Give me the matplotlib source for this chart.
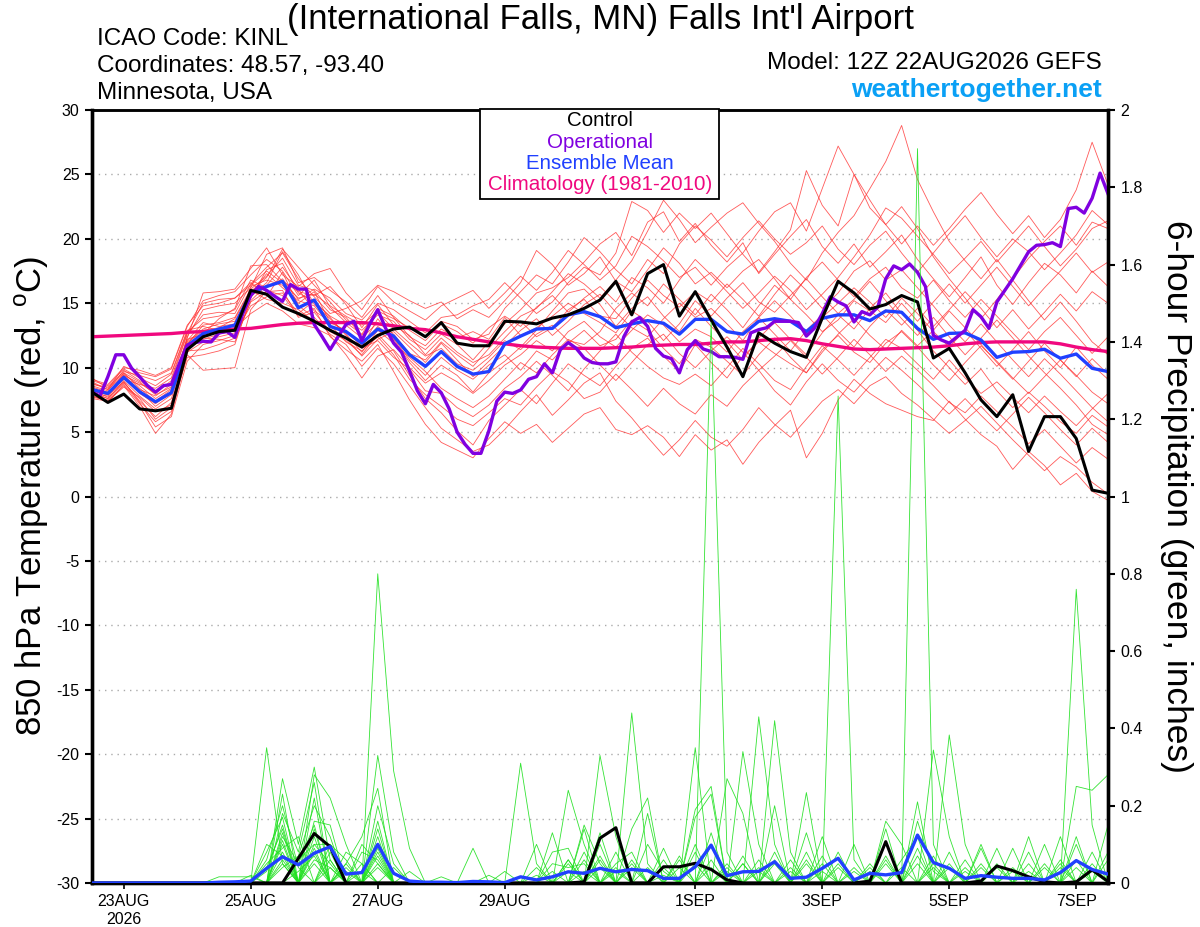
import numpy as np
import pandas as pd
import matplotlib
matplotlib.use('Agg')
import matplotlib.pyplot as plt
from matplotlib.patches import Rectangle

plt.rcParams['font.family'] = ['Liberation Sans', 'DejaVu Sans']
plt.rcParams['axes.unicode_minus'] = False
plt.rcParams['mathtext.fontset'] = 'custom'
plt.rcParams['mathtext.rm'] = 'Liberation Sans'

# ---------------- data ----------------
times6 = pd.date_range('2026-08-22 12:00', periods=65, freq='6h')
times3 = pd.date_range('2026-08-22 12:00', periods=129, freq='3h')

tick_dates = ['2026-08-23', '2026-08-25', '2026-08-27', '2026-08-29',
              '2026-09-01', '2026-09-03', '2026-09-05', '2026-09-07']
tick_labels = ['23AUG\n2026', '25AUG', '27AUG', '29AUG', '1SEP', '3SEP', '5SEP', '7SEP']

control_t = [8.1, 7.3, 7.95, 6.8, 6.65, 6.85, 11.4, 12.4, 12.8, 12.9,
             16.0, 15.7, 14.7, 14.2, 13.6, 12.9, 12.3, 11.6, 12.5, 13.0,
             13.15, 12.4, 13.5, 11.9, 11.7, 11.7, 13.6, 13.55, 13.4, 13.85,
             14.1, 14.6, 15.25, 16.7, 14.1, 17.3, 18.0, 14.0, 15.9, 13.7,
             11.6, 9.3, 12.7, 11.9, 11.25, 10.8, 13.85, 16.7, 15.8, 14.55,
             14.9, 15.6, 15.1, 10.75, 11.5, 9.6, 7.5, 6.2, 7.9, 3.5,
             6.2, 6.2, 4.5, 0.5, 0.25]

operational_t = [8.1, 7.8, 9.3, 11.0, 11.0, 9.95, 9.3, 8.6, 8.1, 8.6,
                 8.7, 10.3, 11.75, 11.95, 12.05, 12.0, 12.7, 12.8, 12.35, 14.2,
                 15.6, 16.3, 16.0, 15.55, 15.15, 16.45, 16.1, 16.1, 13.35, 12.4,
                 11.4, 12.4, 13.35, 13.6, 12.1, 13.4, 14.5, 13.05, 11.9, 11.2,
                 9.75, 8.2, 7.2, 8.7, 8.05, 6.8, 5.0, 4.05, 3.35, 3.35,
                 5.1, 7.4, 8.1, 8.0, 8.27, 9.1, 9.3, 10.3, 9.6, 11.4,
                 11.95, 11.5, 10.75, 10.4, 10.3, 10.3, 10.45, 12.4, 13.55, 13.9,
                 13.2, 11.5, 10.9, 10.7, 9.6, 11.4, 12.1, 11.45, 11.25, 10.85,
                 10.85, 10.8, 10.65, 12.7, 12.95, 13.1, 13.6, 13.6, 13.6, 13.5,
                 12.45, 13.05, 14.2, 15.5, 15.1, 14.8, 13.55, 14.35, 14.1, 14.7,
                 16.9, 17.9, 17.6, 18.05, 17.4, 16.3, 12.5, 12.15, 11.9, 12.4,
                 12.9, 14.5, 13.95, 13.05, 15.1, 16.0, 16.9, 17.95, 19.0, 19.5,
                 19.55, 19.7, 19.4, 22.35, 22.45, 22.0, 23.15, 25.1, 23.5]

mean_t = [8.3, 8.0, 9.25, 8.13, 7.35, 8.06, 11.7, 12.65, 13.0, 13.3,
          15.8, 16.3, 16.7, 14.65, 15.25, 13.2, 12.8, 11.9, 13.0, 12.45,
          11.0, 10.1, 11.25, 10.1, 9.5, 9.7, 11.85, 12.45, 13.0, 13.05,
          14.1, 14.35, 13.96, 13.1, 13.4, 13.65, 13.45, 12.6, 13.75, 13.75,
          12.8, 12.6, 13.6, 13.8, 13.6, 12.8, 13.83, 14.1, 14.1, 13.65,
          14.4, 14.3, 13.05, 12.2, 12.66, 12.7, 12.15, 10.8, 11.2, 11.25,
          11.43, 10.73, 11.06, 9.95, 9.7]

climatology_t = [12.4, 12.45, 12.5, 12.55, 12.6, 12.65, 12.75, 12.8, 12.9, 13.0,
                 13.05, 13.2, 13.35, 13.45, 13.5, 13.5, 13.5, 13.5, 13.4, 13.25,
                 13.05, 12.95, 12.7, 12.4, 12.2, 12.0, 11.85, 11.7, 11.6, 11.55,
                 11.5, 11.5, 11.5, 11.55, 11.6, 11.7, 11.75, 11.8, 11.8, 11.9,
                 12.0, 12.0, 12.1, 12.2, 12.25, 12.1, 11.85, 11.65, 11.45, 11.4,
                 11.45, 11.5, 11.55, 11.6, 11.7, 11.85, 11.95, 12.0, 12.0, 12.0,
                 12.0, 11.85, 11.6, 11.4, 11.25]

member_01 = [8.6, 8.2, 9.8, 9.0, 8.2, 8.8, 12.0, 13.0, 13.4, 13.6, 15.9, 17.0, 19.2,
             17.8, 16.4, 15.1, 13.7, 12.9, 14.1, 13.6, 12.2, 11.4, 12.6, 11.8, 10.6, 12.0,
             13.4, 14.5, 15.8, 16.2, 17.0, 18.2, 19.6, 20.5, 18.7, 21.3, 22.1, 19.8, 21.2,
             19.5, 18.2, 19.7, 17.3, 18.8, 20.2, 21.5, 19.4, 18.1, 19.6, 17.8, 19.0, 20.3,
             18.4, 16.9, 15.5, 17.0, 18.6, 16.4, 14.9, 16.6, 18.1, 17.2, 15.8, 17.5, 16.3]
member_02 = [8.0, 7.6, 9.0, 7.8, 6.8, 7.6, 11.6, 12.2, 12.6, 12.9, 16.3, 16.8, 16.4,
             15.0, 15.9, 13.5, 12.9, 11.6, 13.8, 12.2, 10.4, 9.0, 10.2, 9.4, 8.1, 9.6,
             10.5, 11.6, 12.9, 14.4, 15.8, 16.1, 14.9, 13.2, 14.6, 15.5, 14.0, 12.8, 14.6,
             13.2, 12.0, 10.6, 12.3, 13.5, 12.2, 11.0, 12.7, 14.1, 13.0, 14.6, 15.8, 14.2,
             12.9, 11.3, 10.0, 8.7, 9.9, 8.2, 6.9, 8.1, 7.0, 5.8, 4.9, 6.3, 5.4]
member_03 = [9.2, 8.4, 9.6, 8.4, 7.4, 8.3, 12.3, 15.8, 15.9, 16.1, 17.7, 19.3, 17.2,
             16.3, 17.3, 17.7, 15.8, 14.5, 16.3, 15.1, 14.4, 13.7, 14.8, 15.4, 16.0, 14.6,
             15.8, 17.1, 16.0, 17.4, 19.1, 18.0, 16.8, 17.9, 20.2, 19.4, 18.3, 17.0, 17.8,
             16.4, 17.8, 18.9, 20.6, 22.1, 22.8, 20.6, 23.9, 27.2, 25.0, 22.4, 21.1, 19.6,
             21.0, 19.5, 20.8, 22.3, 23.6, 21.9, 20.4, 21.8, 20.1, 21.5, 23.8, 27.5, 24.2]
member_04 = [7.8, 7.4, 8.6, 7.0, 4.9, 6.4, 11.0, 9.8, 9.9, 10.0, 14.5, 16.0, 15.6,
             14.0, 14.6, 12.4, 11.4, 10.5, 11.8, 9.7, 7.5, 5.6, 4.2, 3.6, 3.0, 4.5,
             5.8, 4.9, 5.6, 4.2, 5.3, 6.4, 6.9, 5.2, 4.8, 5.5, 4.6, 3.1, 4.8,
             3.6, 4.4, 2.5, 4.2, 5.5, 6.7, 3.0, 4.9, 7.5, 9.1, 8.0, 7.2, 6.7,
             6.2, 5.9, 7.4, 6.0, 4.8, 3.9, 2.1, 3.5, 2.4, 0.9, 1.8, 0.4, -0.3]
member_05 = [8.4, 8.0, 9.4, 8.8, 8.0, 9.0, 12.6, 14.1, 14.3, 14.2, 16.5, 17.8, 18.9,
             16.9, 15.5, 14.2, 14.6, 15.2, 16.4, 15.9, 15.2, 14.6, 15.1, 13.8, 14.5, 13.9,
             15.2, 16.6, 19.1, 18.0, 16.4, 17.3, 18.6, 16.7, 15.9, 17.6, 19.3, 18.1, 16.5,
             17.4, 16.2, 17.5, 18.4, 16.9, 15.3, 17.0, 18.2, 16.8, 15.5, 16.9, 17.8, 16.2,
             15.4, 16.8, 15.2, 13.9, 15.3, 14.0, 12.7, 11.4, 12.8, 13.9, 12.5, 11.1, 12.4]
member_06 = [8.2, 7.9, 8.9, 7.4, 6.2, 7.3, 11.3, 11.4, 11.8, 12.3, 15.1, 15.9, 16.0,
             13.9, 14.3, 12.8, 12.1, 11.0, 12.6, 11.3, 9.4, 7.6, 6.5, 5.1, 4.0, 5.9,
             7.1, 8.3, 7.2, 8.8, 10.3, 9.4, 8.6, 10.1, 11.5, 12.3, 10.9, 9.7, 11.8,
             10.4, 9.2, 10.9, 12.0, 11.1, 10.3, 9.6, 11.4, 12.5, 11.2, 10.4, 11.9, 12.8,
             11.6, 10.2, 9.0, 10.4, 11.7, 10.5, 9.2, 8.0, 9.3, 10.6, 9.4, 8.1, 7.2]
member_07 = [8.9, 8.3, 10.1, 9.6, 9.3, 9.9, 13.2, 15.2, 15.6, 15.9, 17.2, 18.4, 17.5,
             15.6, 16.8, 14.7, 13.5, 12.6, 14.6, 14.0, 12.9, 12.1, 13.4, 12.8, 11.9, 13.1,
             14.0, 13.2, 14.7, 15.6, 14.3, 15.4, 16.3, 15.1, 17.0, 16.2, 15.0, 16.8, 18.4,
             17.2, 15.9, 14.6, 15.8, 17.1, 16.0, 14.5, 15.7, 17.0, 18.6, 20.3, 22.4, 21.6,
             20.2, 18.8, 17.3, 18.5, 19.8, 18.2, 19.6, 21.0, 19.4, 17.9, 19.2, 20.8, 21.4]
member_08 = [7.7, 7.5, 8.8, 7.6, 6.0, 6.9, 10.8, 11.0, 11.3, 11.8, 15.5, 16.6, 19.0,
             17.2, 14.9, 13.8, 12.6, 11.2, 12.9, 11.9, 10.8, 9.7, 8.4, 7.6, 6.9, 7.8,
             9.1, 10.4, 9.6, 11.0, 12.2, 11.5, 10.2, 9.0, 10.4, 11.8, 12.6, 11.1, 10.0,
             11.3, 12.4, 11.2, 9.8, 10.9, 12.1, 10.8, 9.5, 10.8, 12.2, 11.0, 9.7, 10.9,
             9.8, 8.6, 7.3, 6.5, 7.8, 6.6, 5.4, 4.1, 5.2, 3.9, 2.6, 3.8, 2.9]
member_09 = [8.5, 8.1, 9.2, 8.2, 7.0, 7.9, 11.9, 12.9, 13.1, 13.8, 16.0, 15.3, 15.0,
             14.5, 13.6, 13.0, 12.3, 10.9, 12.2, 12.8, 11.6, 10.4, 11.9, 10.6, 9.3, 10.5,
             11.7, 12.9, 13.8, 12.5, 13.6, 14.9, 15.7, 14.3, 13.1, 12.4, 13.8, 15.0, 13.9,
             14.6, 13.4, 12.1, 13.9, 15.2, 14.0, 12.6, 13.9, 15.0, 16.2, 15.1, 13.9, 15.4,
             14.2, 12.8, 11.6, 12.9, 11.5, 10.1, 11.4, 12.8, 11.3, 10.0, 11.6, 10.2, 9.1]
member_10 = [8.0, 7.8, 9.5, 8.6, 7.6, 8.4, 12.1, 13.5, 13.2, 13.4, 15.4, 17.6, 18.1,
             15.8, 15.1, 14.0, 13.3, 12.3, 13.5, 12.6, 11.1, 10.6, 12.0, 11.0, 10.1, 11.5,
             12.8, 14.0, 14.6, 15.9, 17.3, 16.5, 15.4, 16.8, 18.3, 20.6, 23.0, 21.5, 19.7,
             20.9, 22.0, 22.8, 21.2, 19.8, 18.1, 16.8, 18.9, 20.5, 21.8, 23.9, 26.0, 28.8,
             24.6, 22.1, 19.8, 18.3, 16.9, 18.4, 16.8, 15.2, 13.7, 15.1, 13.6, 12.0, 11.0]
member_11 = [9.0, 8.6, 9.9, 9.2, 8.6, 9.5, 12.8, 13.8, 14.0, 14.5, 16.8, 16.2, 16.9,
             15.3, 16.1, 15.4, 14.2, 13.7, 15.0, 14.5, 13.6, 12.7, 13.9, 14.1, 14.8, 15.3,
             16.6, 15.4, 14.2, 15.1, 16.6, 17.8, 17.2, 18.9, 22.9, 22.2, 20.5, 22.0, 20.8,
             22.0, 20.4, 18.8, 17.4, 19.0, 20.7, 25.3, 22.6, 21.0, 25.0, 23.0, 21.1, 22.5,
             20.8, 18.6, 16.9, 15.4, 13.8, 15.3, 16.9, 18.5, 19.8, 21.0, 19.5, 21.3, 20.8]
member_12 = [7.9, 7.3, 8.7, 7.2, 5.8, 6.6, 11.2, 12.0, 12.4, 12.7, 14.8, 15.5, 17.4,
             14.8, 13.9, 12.6, 11.8, 10.1, 11.5, 10.3, 8.6, 6.9, 5.3, 4.4, 3.5, 4.0,
             5.2, 6.6, 7.9, 6.3, 7.5, 8.8, 9.6, 7.4, 6.1, 4.6, 3.2, 4.4, 5.9,
             4.6, 3.9, 5.2, 6.9, 5.6, 4.6, 6.0, 7.4, 8.3, 7.2, 8.6, 9.3, 8.0,
             7.1, 6.0, 4.9, 5.9, 7.0, 5.7, 4.4, 3.2, 2.0, 3.1, 2.3, 1.1, 0.2]
member_13 = [8.3, 7.7, 9.3, 8.0, 7.2, 8.1, 12.4, 14.5, 14.8, 15.0, 16.2, 18.8, 19.3,
             16.6, 17.0, 16.0, 15.1, 13.9, 15.6, 13.9, 12.4, 11.7, 13.0, 12.3, 12.8, 12.2,
             13.9, 12.5, 13.1, 14.0, 15.0, 14.2, 13.5, 12.7, 14.4, 13.6, 12.1, 13.4, 15.2,
             14.0, 15.4, 16.6, 15.1, 14.3, 15.6, 16.9, 15.5, 14.2, 15.3, 16.7, 15.2, 13.8,
             12.5, 13.9, 12.4, 11.0, 12.3, 13.7, 12.3, 10.9, 9.6, 8.4, 7.1, 5.6, 4.8]
member_14 = [8.7, 8.5, 9.7, 9.4, 9.0, 9.6, 12.9, 13.2, 12.9, 13.1, 14.2, 15.0, 14.4,
             13.4, 13.1, 12.5, 11.0, 9.2, 10.9, 11.4, 10.0, 8.8, 9.6, 8.9, 8.0, 9.0,
             10.2, 11.0, 12.1, 11.3, 12.8, 13.6, 12.4, 11.6, 12.9, 14.1, 13.3, 12.0, 13.0,
             12.4, 11.2, 12.8, 13.9, 12.6, 11.3, 12.9, 14.1, 12.8, 11.6, 13.2, 14.5, 13.3,
             14.6, 13.2, 14.5, 15.9, 14.6, 13.1, 14.5, 13.0, 14.3, 15.7, 14.4, 15.9, 15.0]
member_15 = [8.1, 7.6, 8.9, 7.3, 5.4, 6.2, 10.5, 11.8, 12.1, 12.5, 15.7, 17.3, 16.2,
             15.2, 14.8, 13.3, 12.0, 11.3, 12.4, 11.0, 9.1, 7.9, 7.0, 6.0, 5.5, 6.5,
             7.6, 7.1, 8.5, 9.7, 8.9, 7.6, 8.1, 9.5, 8.3, 7.0, 8.4, 7.2, 6.4,
             7.9, 7.0, 8.6, 9.8, 8.2, 7.1, 8.9, 10.3, 9.0, 8.1, 9.5, 10.8, 9.8,
             8.7, 7.5, 6.4, 7.6, 6.3, 5.1, 6.4, 7.7, 6.5, 5.2, 4.0, 5.3, 4.2]
member_16 = [8.8, 8.3, 9.4, 8.3, 7.8, 8.7, 12.2, 12.6, 13.8, 14.6, 17.9, 18.0, 16.7,
             15.9, 15.6, 16.3, 14.9, 13.1, 14.9, 13.3, 12.5, 11.0, 12.3, 11.2, 10.4, 11.0,
             12.3, 13.6, 12.4, 13.1, 14.5, 15.3, 14.0, 13.8, 15.4, 16.8, 15.6, 14.7, 15.9,
             15.1, 16.5, 15.3, 14.0, 15.7, 17.2, 16.0, 14.6, 15.8, 17.5, 18.3, 16.8, 17.6,
             16.2, 14.8, 13.3, 12.0, 13.4, 12.0, 10.6, 9.3, 10.7, 9.5, 8.2, 6.9, 5.8]
member_17 = [7.6, 7.4, 8.5, 7.7, 6.6, 7.1, 11.4, 12.3, 12.2, 12.0, 15.2, 16.4, 17.8,
             16.1, 14.4, 13.6, 12.8, 11.8, 13.2, 12.3, 10.6, 9.4, 10.8, 9.8, 9.1, 10.2,
             11.0, 9.8, 11.3, 10.6, 11.9, 12.9, 11.7, 12.2, 13.7, 12.9, 11.5, 10.3, 12.2,
             11.6, 10.5, 9.4, 11.0, 12.3, 10.8, 9.6, 11.2, 12.6, 13.8, 12.5, 11.4, 12.9,
             11.7, 12.9, 14.4, 13.1, 11.8, 10.4, 9.1, 10.5, 11.9, 10.6, 9.3, 10.7, 9.5]
member_18 = [8.4, 8.0, 9.1, 8.7, 8.4, 9.2, 12.7, 15.0, 15.3, 15.4, 16.6, 15.6, 15.8,
             14.2, 15.2, 13.9, 12.5, 11.5, 12.1, 10.8, 9.9, 8.2, 8.0, 6.9, 6.2, 7.1,
             8.4, 9.3, 10.5, 9.4, 8.2, 9.9, 11.3, 12.6, 11.2, 10.1, 9.2, 8.7, 9.5,
             8.6, 10.0, 11.5, 10.3, 9.0, 8.3, 10.1, 11.7, 10.6, 9.4, 10.8, 12.2, 11.5,
             10.3, 9.1, 10.6, 9.2, 8.0, 8.9, 7.7, 6.5, 7.8, 6.6, 5.5, 6.8, 8.0]
member_19 = [8.2, 7.9, 9.6, 8.9, 7.9, 8.5, 11.8, 13.3, 13.5, 13.9, 16.1, 17.1, 18.5,
             16.4, 16.0, 14.5, 13.9, 12.5, 14.3, 13.0, 11.9, 10.9, 11.5, 10.3, 9.8, 10.8,
             12.1, 11.4, 12.6, 13.3, 12.1, 11.8, 12.8, 14.6, 15.8, 14.8, 16.5, 15.3, 14.1,
             15.7, 14.5, 13.1, 14.8, 16.4, 15.3, 14.1, 12.8, 13.7, 15.2, 14.4, 13.5, 15.0,
             13.6, 15.1, 16.5, 15.0, 16.4, 17.8, 16.3, 14.8, 16.2, 17.5, 18.9, 17.4, 18.2]
member_20 = [9.1, 8.7, 10.0, 9.8, 9.4, 10.0, 13.3, 14.8, 15.0, 15.4, 16.4, 17.5, 16.6,
             15.4, 15.7, 14.8, 14.0, 13.3, 14.4, 13.8, 13.1, 12.4, 13.6, 13.2, 12.2, 12.6,
             14.6, 15.9, 17.2, 16.5, 18.2, 20.1, 19.0, 17.6, 16.5, 18.4, 17.3, 19.6, 21.0,
             19.9, 18.6, 20.1, 21.4, 20.0, 18.8, 19.7, 21.0, 19.2, 18.0, 19.5, 20.6, 18.9,
             17.4, 18.9, 20.4, 21.8, 20.1, 18.6, 20.0, 19.0, 17.6, 18.9, 20.3, 22.2, 21.1]

members_t = [member_01, member_02, member_03, member_04, member_05, member_06, member_07,
             member_08, member_09, member_10, member_11, member_12, member_13, member_14,
             member_15, member_16, member_17, member_18, member_19, member_20]

control_p = [0, 0, 0, 0, 0, 0, 0, 0, 0, 0, 0, 0, 0, 0.064, 0.128, 0.094,
             0, 0, 0, 0, 0, 0, 0, 0, 0, 0, 0, 0, 0, 0, 0,
             0.003, 0.116, 0.143, 0, 0, 0.042, 0.042, 0.051, 0.035, 0.008,
             0, 0, 0, 0, 0, 0, 0, 0, 0.005, 0.107,
             0, 0, 0, 0, 0, 0.005, 0.044, 0.032, 0.016, 0.003, 0, 0.003, 0.034, 0.004]

mean_p = [0, 0, 0, 0, 0, 0, 0, 0, 0.002, 0.003,
          0.005, 0.038, 0.068, 0.047, 0.077, 0.094, 0.023, 0.027, 0.10, 0.025,
          0.005, 0.002, 0.002, 0.001, 0.004, 0.003, 0.001, 0.016, 0.008, 0.016,
          0.029, 0.025, 0.038, 0.029, 0.035, 0.032, 0.012, 0.012, 0.042, 0.098,
          0.019, 0.029, 0.03, 0.055, 0.012, 0.015, 0.038, 0.064, 0.008, 0.025,
          0.021, 0.027, 0.124, 0.053, 0.038, 0.012, 0.019, 0.015, 0.012, 0.012,
          0.008, 0.027, 0.058, 0.035, 0.023]

# ensemble member precipitation: {6-hour step index: inches}, all other steps 0
members_p = [
    {11: 0.35, 12: 0.05, 14: 0.12, 18: 0.14, 27: 0.31, 28: 0.05, 34: 0.44, 35: 0.05, 39: 1.45, 40: 0.08, 45: 0.13, 52: 0.16, 53: 0.03, 59: 0.12},
    {10: 0.02, 12: 0.27, 13: 0.1, 14: 0.3, 15: 0.06, 18: 0.8, 19: 0.29, 20: 0.09, 31: 0.15, 32: 0.05, 38: 0.35, 41: 0.05, 47: 1.26, 48: 0.06, 56: 0.1},
    {12: 0.23, 14: 0.28, 15: 0.22, 16: 0.1, 18: 0.33, 19: 0.08, 30: 0.24, 31: 0.1, 36: 0.09, 42: 0.43, 43: 0.1, 52: 1.9, 53: 0.1, 62: 0.25, 63: 0.24, 64: 0.28},
    {12: 0.18, 13: 0.08, 14: 0.26, 16: 0.05, 17: 0.12, 18: 0.245, 32: 0.33, 33: 0.12, 38: 0.19, 39: 0.25, 43: 0.42, 44: 0.08, 50: 0.14, 54: 0.383, 55: 0.1},
    {11: 0.08, 12: 0.17, 14: 0.16, 15: 0.15, 18: 0.2, 19: 0.05, 24: 0.09, 29: 0.13, 34: 0.14, 35: 0.22, 41: 0.34, 42: 0.1, 46: 0.12, 53: 0.344, 54: 0.12, 62: 0.76, 63: 0.15},
    {8: 0.016, 9: 0.016, 10: 0.016, 12: 0.13, 14: 0.1, 15: 0.1, 17: 0.05, 22: 0.016, 26: 0.03, 29: 0.08, 30: 0.09, 38: 0.17, 39: 0.23, 45: 0.234, 50: 0.16, 51: 0.1, 61: 0.12, 64: 0.15},
    {11: 0.05, 12: 0.09, 13: 0.12, 15: 0.1, 16: 0.06, 18: 0.12, 28: 0.1, 30: 0.06, 32: 0.13, 35: 0.18, 40: 0.27, 41: 0.18, 47: 0.08, 52: 0.21, 57: 0.09, 60: 0.1},
    {11: 0.1, 12: 0.07, 14: 0.08, 16: 0.05, 18: 0.09, 20: 0.03, 31: 0.14, 33: 0.05, 34: 0.08, 36: 0.06, 39: 0.1, 43: 0.2, 48: 0.1, 56: 0.09, 59: 0.05, 61: 0.06},
    {12: 0.12, 13: 0.05, 14: 0.15, 17: 0.08, 18: 0.06, 25: 0.02, 32: 0.1, 37: 0.07, 43: 0.08, 49: 0.04, 55: 0.06, 58: 0.09, 62: 0.1},
    {11: 0.03, 12: 0.15, 14: 0.06, 15: 0.04, 18: 0.1, 29: 0.05, 30: 0.04, 31: 0.05, 37: 0.06, 42: 0.06, 45: 0.05, 50: 0.07, 54: 0.08, 57: 0.05, 63: 0.08},
    {12: 0.04, 13: 0.07, 14: 0.2, 15: 0.12, 18: 0.07, 33: 0.08, 38: 0.1, 40: 0.05, 44: 0.04, 46: 0.05, 51: 0.06, 52: 0.12, 55: 0.04, 60: 0.05, 62: 0.12},
    {12: 0.1, 14: 0.22, 16: 0.08, 17: 0.05, 19: 0.04, 30: 0.05, 34: 0.06, 39: 0.13, 41: 0.07, 45: 0.06, 47: 0.05, 53: 0.07, 56: 0.05, 61: 0.04},
    {11: 0.06, 12: 0.2, 13: 0.04, 15: 0.08, 18: 0.16, 28: 0.04, 32: 0.07, 35: 0.1, 36: 0.03, 43: 0.05, 48: 0.04, 52: 0.09, 58: 0.04, 64: 0.06},
    {12: 0.06, 14: 0.14, 17: 0.1, 18: 0.05, 31: 0.08, 33: 0.04, 38: 0.05, 42: 0.04, 46: 0.07, 50: 0.05, 54: 0.05, 59: 0.08, 63: 0.05},
    {13: 0.06, 14: 0.1, 15: 0.05, 18: 0.08, 30: 0.03, 34: 0.05, 39: 0.06, 44: 0.06, 49: 0.03, 52: 0.05, 57: 0.04, 62: 0.06},
    {12: 0.08, 14: 0.05, 16: 0.04, 29: 0.03, 32: 0.04, 36: 0.04, 40: 0.04, 45: 0.08, 51: 0.04, 53: 0.05, 60: 0.04},
    {11: 0.04, 12: 0.14, 15: 0.06, 18: 0.04, 31: 0.03, 35: 0.04, 38: 0.08, 43: 0.06, 47: 0.04, 55: 0.03, 61: 0.05, 64: 0.08},
    {12: 0.05, 14: 0.09, 16: 0.03, 30: 0.06, 33: 0.03, 37: 0.04, 41: 0.05, 48: 0.03, 52: 0.07, 56: 0.04, 62: 0.04},
    {13: 0.03, 14: 0.07, 17: 0.03, 32: 0.06, 34: 0.04, 39: 0.04, 42: 0.03, 46: 0.03, 50: 0.06, 54: 0.04, 59: 0.03, 63: 0.03},
    {12: 0.11, 15: 0.04, 18: 0.05, 28: 0.02, 31: 0.06, 36: 0.02, 40: 0.03, 44: 0.03, 49: 0.05, 53: 0.04, 58: 0.03},
]

temp_ticks = list(range(-30, 31, 5))
precip_ticks = [0, 0.2, 0.4, 0.6, 0.8, 1.0, 1.2, 1.4, 1.6, 1.8, 2.0]
precip_tick_labels = ['0', '0.2', '0.4', '0.6', '0.8', '1', '1.2', '1.4', '1.6', '1.8', '2']

# ---------------- styling ----------------
C_RED = '#ff3030'
C_GREEN = '#1ee01e'
C_OPER = '#8000e0'
C_MEAN = '#2040ff'
C_CLIM = '#f0087f'

W, H = 1200, 927
fig = plt.figure(figsize=(W / 100, H / 100), dpi=100)
L, R, T, B = 92, 1108, 110, 883
ax = fig.add_axes([L / W, 1 - B / H, (R - L) / W, (B - T) / H])
ax2 = ax.twinx()

ax.set_xlim(times6[0], times6[-1])
ax.set_ylim(-30, 30)
ax2.set_ylim(0, 2)

for v in temp_ticks[1:-1]:
    ax.axhline(v, color='#aaaaaa', lw=1.0, ls=(0, (1, 3.5)), zorder=0)

for m in members_t:
    ax.plot(times6, m, color=C_RED, lw=0.6, alpha=0.8, zorder=1)
ax.plot(times6, climatology_t, color=C_CLIM, lw=2.4, zorder=3)
ax.plot(times6, mean_t, color=C_MEAN, lw=2.4, zorder=4)
ax.plot(times3, operational_t, color=C_OPER, lw=2.4, zorder=5)
ax.plot(times6, control_t, color='black', lw=2.2, zorder=6)

for d in members_p:
    arr = np.zeros(len(times6))
    for k, v in d.items():
        arr[k] = v
    ax2.plot(times6, arr, color=C_GREEN, lw=0.6, alpha=0.9, zorder=1)
ax2.plot(times6, control_p, color='black', lw=2.2, zorder=3)
ax2.plot(times6, mean_p, color=C_MEAN, lw=2.4, zorder=4)

ax.set_yticks(temp_ticks)
ax.set_yticklabels([str(t) for t in temp_ticks])
ax2.set_yticks(precip_ticks)
ax2.set_yticklabels(precip_tick_labels)
ax.set_xticks(pd.to_datetime(tick_dates))
ax.set_xticklabels(tick_labels)

ax.tick_params(axis='y', direction='out', length=5, width=1.5, labelsize=11.5, pad=4)
ax2.tick_params(axis='y', direction='out', length=5, width=1.5, labelsize=11.5, pad=4)
ax.tick_params(axis='x', direction='out', length=4, width=1.2, labelsize=11.5, pad=4)

for a in (ax, ax2):
    for s in a.spines.values():
        s.set_linewidth(2.4)
        s.set_color('black')
    a.spines['top'].set_linewidth(1.8)

# ---------------- texts ----------------
fig.text(600 / W, 1 - 19 / H, "(International Falls, MN) Falls Int'l Airport",
         ha='center', va='center', fontsize=25)
fig.text(97 / W, 1 - 39 / H, 'ICAO Code: KINL', ha='left', va='center', fontsize=17.5)
fig.text(97 / W, 1 - 66 / H, 'Coordinates: 48.57, -93.40', ha='left', va='center', fontsize=17.5)
fig.text(97 / W, 1 - 93 / H, 'Minnesota, USA', ha='left', va='center', fontsize=17.5)
fig.text(1102 / W, 1 - 63 / H, 'Model: 12Z 22AUG2026 GEFS', ha='right', va='center', fontsize=17.5)
fig.text(1102 / W, 1 - 90 / H, 'weathertogether.net', ha='right', va='center', fontsize=19,
         fontweight='bold', color='#0aa0f5')

fig.text(32 / W, 1 - 496 / H, '850 hPa Temperature (red, $^{\\rm o}$C)', rotation=90,
         ha='center', va='center', fontsize=25)
fig.text(1176 / W, 1 - 496 / H, '6-hour Precipitation (green, inches)', rotation=270,
         ha='center', va='center', fontsize=25.5)

# legend box
box = Rectangle((480 / W, 1 - 199 / H), 239 / W, 90 / H, transform=fig.transFigure,
                facecolor='white', edgecolor='black', lw=1.3, zorder=5)
fig.add_artist(box)
legend_items = [('Control', 'black'), ('Operational', C_OPER),
                ('Ensemble Mean', C_MEAN), ('Climatology (1981-2010)', C_CLIM)]
for k, (lab, col) in enumerate(legend_items):
    fig.text(600 / W, 1 - (121 + 21.3 * k) / H, lab, ha='center', va='center',
             fontsize=14.8, color=col, zorder=6)

fig.savefig('out.png', dpi=100)
